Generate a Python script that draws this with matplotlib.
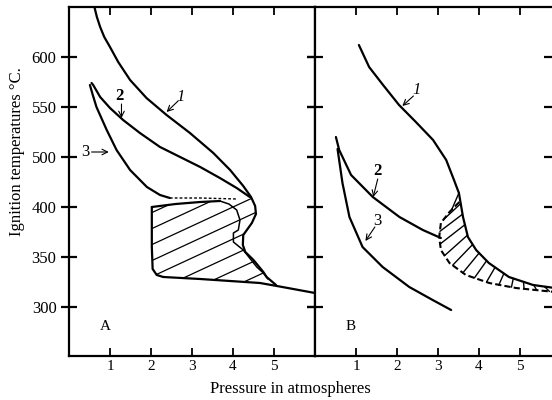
import numpy as np
import matplotlib
matplotlib.use("Agg")
import matplotlib.pyplot as plt
from matplotlib.patches import Polygon

plt.rcParams["font.family"] = ["Liberation Serif", "DejaVu Serif"]
plt.rcParams["lines.solid_joinstyle"] = "round"
plt.rcParams["lines.solid_capstyle"] = "round"

# y axis runs linear; printed labels as in the original (no 450 label)
ytick_pos = [300, 350, 400, 450, 500, 550]
ytick_lab = ["300", "350", "400", "500", "550", "600"]
xticks = [1, 2, 3, 4, 5]

# ---- panel A ----
c1a_x = [0.57, 0.62, 0.68, 0.76, 0.86, 1.00, 1.20, 1.49, 1.89, 2.38, 2.95, 3.52,
         3.93, 4.25, 4.44, 4.54, 4.56, 4.46, 4.25, 4.24, 4.30, 4.50, 4.74, 4.82, 5.05]
c1a_y = [604, 600, 590, 580, 570, 560, 545, 527, 509, 492, 474, 454,
         437, 421, 410, 401, 393, 384, 372, 362, 355, 347, 335, 330, 322]
c2a_x = [0.55, 0.59, 0.76, 1.00, 1.32, 1.73, 2.22, 2.71, 3.20, 3.68, 4.09, 4.41]
c2a_y = [524, 522, 510, 499, 487, 474, 460, 450, 440, 429, 419, 410]
c3a_x = [0.51, 0.58, 0.67, 0.92, 1.16, 1.49, 1.90, 2.22, 2.46]
c3a_y = [522, 512, 500, 477, 457, 437, 420, 412, 409]
dash_a_x = [2.46, 3.20, 4.10]
dash_a_y = [409, 409, 408]
inner_a_x = [3.68, 3.90, 4.09, 4.17, 4.13, 4.01, 4.01, 4.25, 4.58, 4.74, 4.85]
inner_a_y = [406, 403, 397, 387, 377, 374, 365, 357, 340, 334, 328]
top_a_x = [2.02, 2.60, 3.20, 3.68]
top_a_y = [400, 403, 405, 406]
left_a_x = [2.30, 2.14, 2.04, 2.02, 2.02]
left_a_y = [330, 332, 338, 360, 400]
bot_a_x = [2.30, 3.20, 4.66, 5.07, 5.47, 6.00]
bot_a_y = [330, 328, 324, 321, 318, 314]

# ---- panel B ----
c1b_x = [1.07, 1.32, 1.66, 2.05, 2.46, 2.88, 3.20, 3.39, 3.51, 3.61, 3.73, 3.93,
         4.24, 4.73, 5.32, 5.85]
c1b_y = [562, 540, 522, 502, 485, 467, 447, 427, 414, 390, 370, 357,
         344, 330, 322, 319]
c2b_x = [0.51, 0.59, 0.88, 1.41, 2.06, 2.63, 3.07]
c2b_y = [470, 457, 432, 410, 390, 377, 369]
c3b_x = [0.55, 0.67, 0.84, 1.16, 1.65, 2.30, 2.87, 3.32]
c3b_y = [458, 424, 390, 360, 340, 320, 307, 297]
dash_b_x = [3.52, 3.28, 3.07, 3.03, 3.07, 3.28, 3.68, 4.25, 4.90, 5.85]
dash_b_y = [405, 395, 384, 370, 357, 344, 332, 324, 319, 315]

lw = 1.6
fig = plt.figure(figsize=(5.52, 4.0), dpi=100)
ax1 = fig.add_axes([69 / 552, 44 / 400, 246 / 552, 349 / 400])
ax2 = fig.add_axes([315 / 552, 44 / 400, 237 / 552, 349 / 400])

for ax, xmax in ((ax1, 6.0), (ax2, 237 / 41)):
    ax.set_xlim(0, xmax)
    ax.set_ylim(251, 600)
    ax.set_xticks(xticks)
    ax.set_yticks(ytick_pos)
    for s in ax.spines.values():
        s.set_linewidth(1.6)
    ax.tick_params(axis="x", direction="in", top=True, length=6, width=1.3,
                   labelsize=11, pad=3)
    ax.tick_params(axis="y", direction="inout", right=True, length=11, width=1.6,
                   labelsize=12)
ax1.set_yticklabels(ytick_lab)
ax2.set_yticklabels([])
ax2.spines["right"].set_visible(False)

# panel A lines
ax1.plot(c1a_x, c1a_y, color="black", lw=lw)
ax1.plot(c2a_x, c2a_y, color="black", lw=lw)
ax1.plot(c3a_x, c3a_y, color="black", lw=lw)
ax1.plot(dash_a_x, dash_a_y, color="black", lw=1.0, ls=(0, (2, 1.5)))
ax1.plot(inner_a_x, inner_a_y, color="black", lw=1.1)
ax1.plot(top_a_x, top_a_y, color="black", lw=lw)
ax1.plot(left_a_x, left_a_y, color="black", lw=lw)
ax1.plot(bot_a_x, bot_a_y, color="black", lw=lw)

# hatch in A, clipped to the outlined region
i0 = c1a_x.index(4.44)
clip_x = top_a_x + c1a_x[i0:-1] + bot_a_x[:3][::-1] + left_a_x
clip_y = top_a_y + c1a_y[i0:-1] + bot_a_y[:3][::-1] + left_a_y
clip_a = Polygon(np.column_stack([clip_x, clip_y]), closed=True,
                 transform=ax1.transData, fill=False, lw=0)
hx = np.array([0, 6])
for c in np.arange(228, 380, 16):
    ln, = ax1.plot(hx, c + 19 * hx, color="black", lw=0.9)
    ln.set_clip_path(clip_a)

# panel B lines
ax2.plot(c1b_x, c1b_y, color="black", lw=lw)
ax2.plot(c2b_x, c2b_y, color="black", lw=lw)
ax2.plot(c3b_x, c3b_y, color="black", lw=lw)
ax2.plot(dash_b_x, dash_b_y, color="black", lw=1.5, ls=(0, (3, 1.5)))


def arc_points(xs, ys, n, t0, t1):
    px = np.array(xs) * 41
    py = np.array(ys, dtype=float)
    d = np.concatenate([[0], np.cumsum(np.hypot(np.diff(px), np.diff(py)))])
    t = np.linspace(t0, t1, n) * d[-1]
    return np.interp(t, d, xs), np.interp(t, d, ys)


j0 = c1b_y.index(414)
ix, iy = arc_points(dash_b_x, dash_b_y, 14, 0.06, 0.97)
ox, oy = arc_points(c1b_x[j0:], c1b_y[j0:], 14, 0.0, 0.93)
for k in range(len(ix)):
    ax2.plot([ix[k], ox[k]], [iy[k], oy[k]], color="black", lw=1.0)

# labels and arrows
arr = dict(arrowstyle="->", lw=0.8, color="black", shrinkA=0, shrinkB=0)
ax1.text(2.72, 510, "1", fontsize=12, ha="center", va="center", style="italic")
ax1.annotate("", xy=(2.38, 495), xytext=(2.66, 506), arrowprops=arr)
ax1.text(1.24, 511, "2", fontsize=12, ha="center", va="center", weight="bold")
ax1.annotate("", xy=(1.28, 489), xytext=(1.28, 503), arrowprops=arr)
ax1.text(0.39, 455, "3", fontsize=12, ha="center", va="center")
ax1.annotate("", xy=(0.97, 455), xytext=(0.55, 455), arrowprops=arr)
ax1.text(0.88, 280, "A", fontsize=11, ha="center", va="center")

ax2.text(2.47, 517, "1", fontsize=12, ha="center", va="center", style="italic")
ax2.annotate("", xy=(2.13, 501), xytext=(2.40, 511), arrowprops=arr)
ax2.text(1.53, 436, "2", fontsize=12, ha="center", va="center", weight="bold")
ax2.annotate("", xy=(1.42, 410), xytext=(1.53, 428), arrowprops=arr)
ax2.text(1.53, 386, "3", fontsize=12, ha="center", va="center")
ax2.annotate("", xy=(1.23, 366), xytext=(1.46, 380), arrowprops=arr)
ax2.text(0.88, 280, "B", fontsize=11, ha="center", va="center")

fig.text(290 / 552, 1 - 389 / 400, "Pressure in atmospheres", fontsize=12,
         ha="center", va="center")
fig.text(17 / 552, 1 - 152 / 400, "Ignition temperatures °C.", fontsize=12,
         ha="center", va="center", rotation=90)

fig.savefig("out.png", dpi=100)
